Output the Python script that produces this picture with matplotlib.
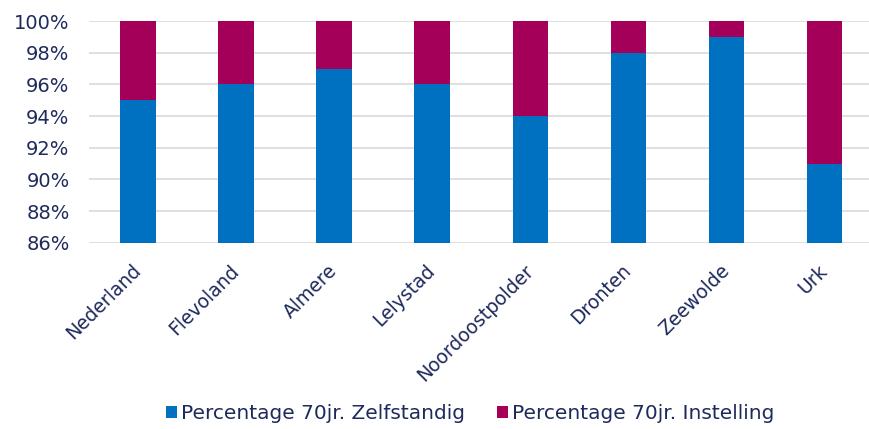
import numpy as np
import matplotlib
matplotlib.use("Agg")
import matplotlib.pyplot as plt
from matplotlib.ticker import FuncFormatter

# data
regions = ["Nederland", "Flevoland", "Almere", "Lelystad",
           "Noordoostpolder", "Dronten", "Zeewolde", "Urk"]
zelfstandig = [95, 96, 97, 96, 94, 98, 99, 91]
instelling = [5, 4, 3, 4, 6, 2, 1, 9]
series_names = ["Percentage 70jr. Zelfstandig", "Percentage 70jr. Instelling"]

blue = "#0070C0"
magenta = "#A50059"
text_color = "#1F2A5C"

plt.rcParams["font.family"] = "DejaVu Sans"

fig = plt.figure(figsize=(8.69, 4.29), dpi=100)
# the plot area runs slightly past the right edge, as in the original
ax = fig.add_axes([0.1024, 0.434, 0.9026, 0.517])

x = np.arange(len(regions))
w = 0.36
ax.bar(x, zelfstandig, width=w, color=blue, label=series_names[0], zorder=3)
ax.bar(x, instelling, width=w, bottom=zelfstandig, color=magenta,
       label=series_names[1], zorder=3)

ax.set_ylim(86, 100)
ax.set_xlim(-0.5, len(regions) - 0.5)
ax.set_yticks(np.arange(86, 101, 2))
ax.yaxis.set_major_formatter(FuncFormatter(lambda v, p: f"{v:.0f}%"))
ax.grid(axis="y", color="#D9D9D9", linewidth=1.2, zorder=0)

for s in ax.spines.values():
    s.set_visible(False)
ax.tick_params(axis="both", length=0, colors=text_color)
ax.tick_params(axis="y", pad=14, labelsize=14)

ax.set_xticks(x)
ax.set_xticklabels(regions, rotation=45, ha="right", va="center",
                   rotation_mode="anchor")
ax.tick_params(axis="x", pad=18, labelsize=13.5)

fig.legend(loc="center", bbox_to_anchor=(0.541, 0.035), ncol=2,
           frameon=False, fontsize=14.5, labelcolor=text_color,
           handlelength=0.55, handleheight=0.55, handletextpad=0.2,
           columnspacing=1.6)

fig.savefig("out.png", dpi=100)
